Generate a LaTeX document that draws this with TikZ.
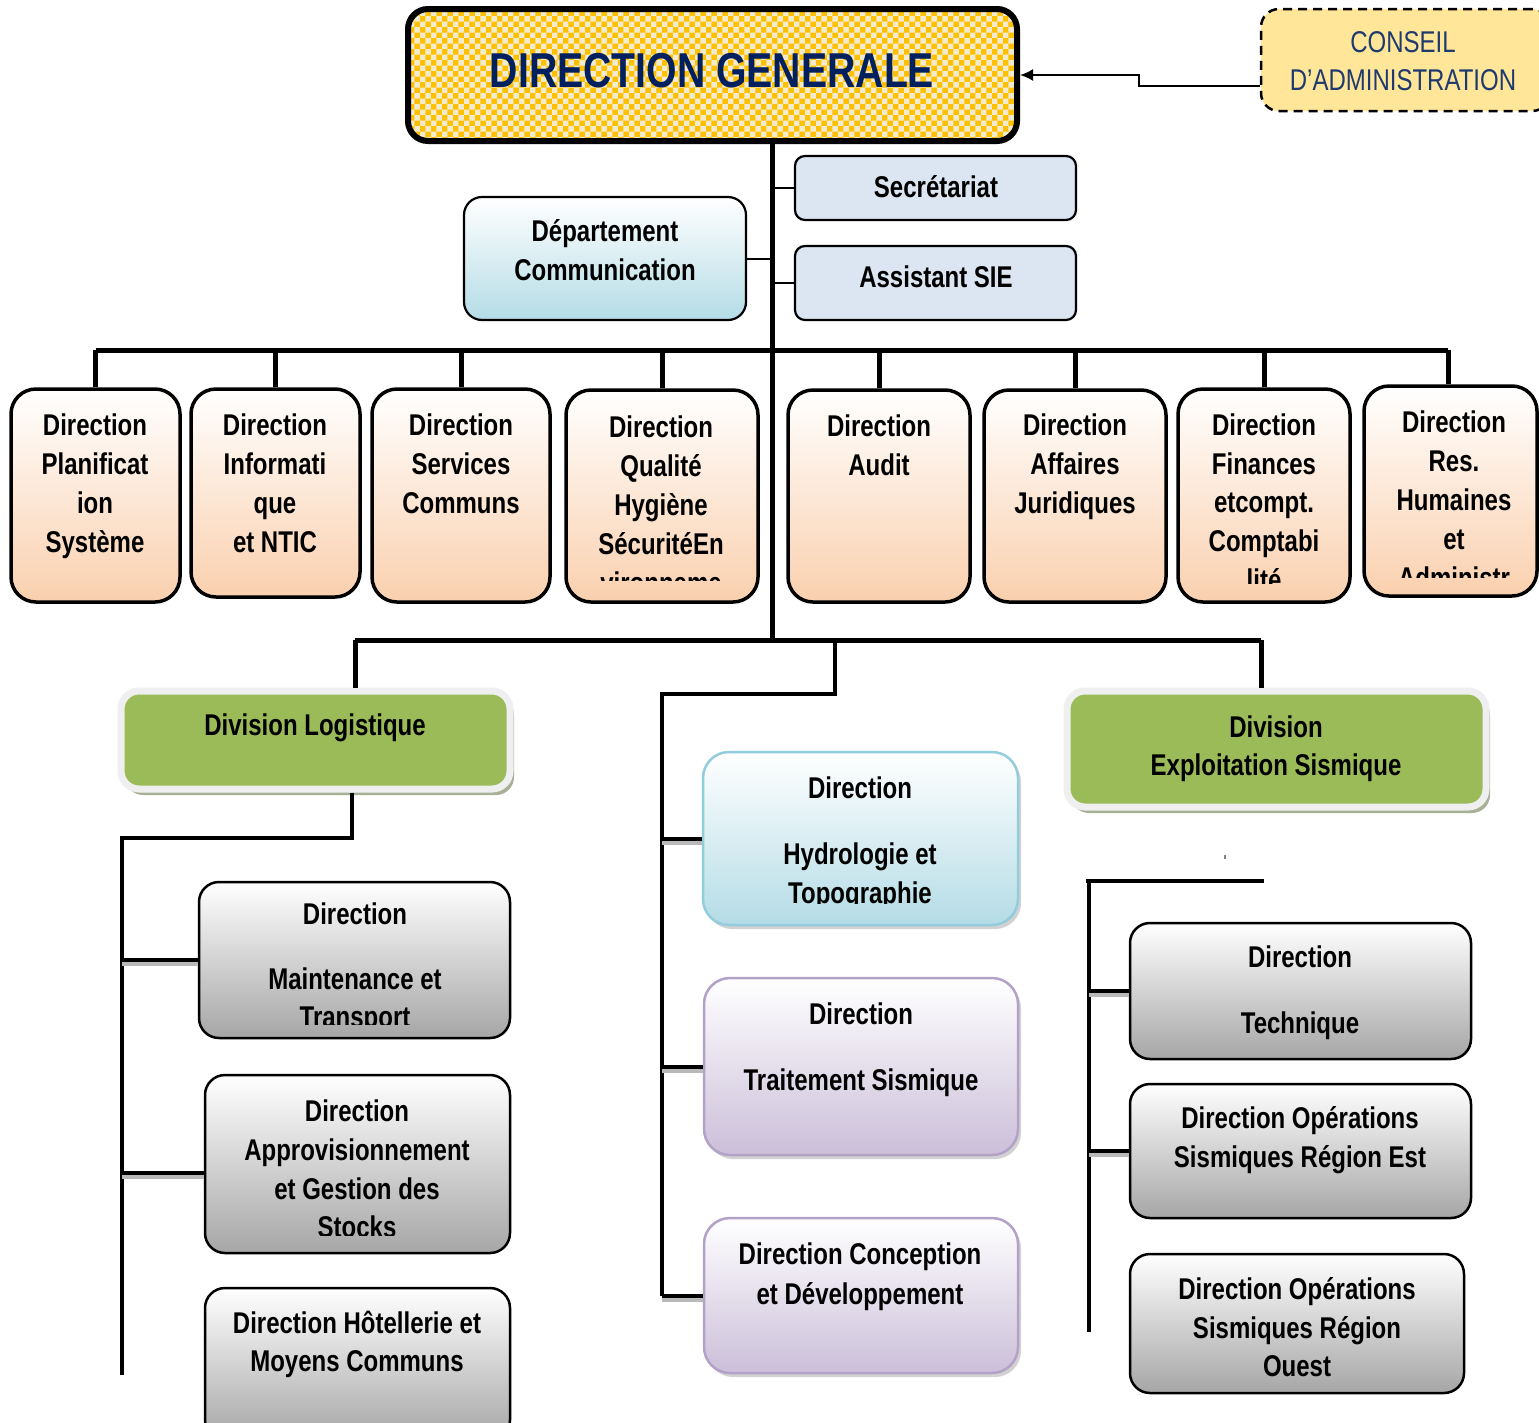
\documentclass[tikz,border=0pt]{standalone}
\usepackage{fontspec}
\setmainfont{Liberation Sans}[FakeStretch=0.8]
\usetikzlibrary{shadows,patterns,arrows.meta}
\definecolor{dgyellow}{HTML}{FFC000}
\definecolor{dgcream}{HTML}{F3EBCF}
\definecolor{dgnavy}{HTML}{002060}
\definecolor{canavy}{HTML}{1F3A6E}
\definecolor{cafill}{HTML}{FFE699}
\definecolor{peach}{HTML}{FAD0AE}
\definecolor{secfill}{HTML}{DCE6F2}
\definecolor{lblue}{HTML}{B4DCE6}
\definecolor{bblue}{HTML}{93CDDD}
\definecolor{lpurple}{HTML}{CBBFD9}
\definecolor{bpurple}{HTML}{B3A2C7}
\definecolor{midgray}{HTML}{A6A6A6}
\definecolor{dgreen}{HTML}{9BBB59}
\definecolor{greenrim}{HTML}{EFEFEF}
\definecolor{greenshadow}{HTML}{A7B096}
\newcommand\bx[6]{\node[#1, minimum width={#5-#3}, minimum height={#6-#4}] (#2) at ({(#3+#5)/2},{(#4+#6)/2}) {};}
\newcommand\tx[3][]{\foreach \yy/\myline in {#3}{\node[tl,#1] at (#2,\yy) {\myline};}}
\tikzset{
  tl/.style={anchor=base, inner sep=0pt, yshift=1pt, font=\bfseries\fontsize{30}{36}\selectfont},
  dgtext/.style={text=dgnavy, font=\bfseries\fontsize{49}{60}\selectfont},
  catext/.style={text=canavy, font=\mdseries\fontsize{30}{36}\selectfont},
  basebox/.style={rectangle, inner sep=0pt},
  dgbox/.style={basebox, draw, line width=6pt, rounded corners=20pt, preaction={fill=dgyellow}, pattern=checkerboard, pattern color=dgcream},
  cabox/.style={basebox, draw, line width=2.5pt, dashed, dash pattern=on 9pt off 6pt, rounded corners=18pt, fill=cafill},
  secbox/.style={basebox, draw, line width=2.2pt, rounded corners=10pt, fill=secfill},
  deptbox/.style={basebox, draw, line width=2.2pt, rounded corners=18pt, top color=white, bottom color=lblue},
  rowbox/.style={basebox, draw, line width=3.5pt, rounded corners=25pt, top color=white, bottom color=peach},
  greenbox/.style={basebox, draw=greenrim, line width=7pt, rounded corners=18pt, fill=dgreen, drop shadow={shadow xshift=4pt, shadow yshift=-6pt, fill=greenshadow, opacity=1}},
  graybox/.style={basebox, draw, line width=2.5pt, rounded corners=20pt, top color=white, bottom color=midgray},
  bluebox/.style={basebox, draw=bblue, line width=2.5pt, rounded corners=26pt, top color=white, bottom color=lblue, drop shadow={shadow xshift=3pt, shadow yshift=-4pt, opacity=0.35}},
  purplebox/.style={basebox, draw=bpurple, line width=2.5pt, rounded corners=26pt, top color=white, bottom color=lpurple, drop shadow={shadow xshift=3pt, shadow yshift=-4pt, opacity=0.35}},
  mainline/.style={line width=5pt, line join=miter},
  thinline/.style={line width=2pt},
  lowline/.style={line width=4pt, line join=miter},
  branch/.style={line width=4pt, preaction={draw=gray!55, line width=4pt, transform canvas={yshift=-4pt}}},
}
\begin{document}
\begin{tikzpicture}[x=1pt,y=-1pt]
\useasboundingbox (0,0) rectangle (1539,1422);
\fill[white] (0,0) rectangle (1539,1422);

% ---------- top ----------
\bx{dgbox}{dg}{408}{9}{1017}{141}
\tx[dgtext]{712}{88/DIRECTION GENERALE}
\bx{cabox}{ca}{1261}{9}{1550}{111}
\tx[catext]{1403}{53/CONSEIL, 91/D’ADMINISTRATION}
\coordinate (cal) at (ca.west |- 0,86);
\coordinate (cak) at (1139,86);
\draw[thinline, -{Latex[length=13pt,width=12pt]}] (cal) -- (cak) -- (cak |- 0,75) -- (dg.east |- 0,75);

% trunk
\coordinate (tb) at (772,640);
\draw[mainline] (dg.south -| tb) -- (tb);

\bx{secbox}{sec}{795}{156}{1076}{220}
\tx{936}{198/Secrétariat}
\bx{secbox}{asst}{795}{246}{1076}{320}
\tx{936}{288/Assistant SIE}
\bx{deptbox}{dept}{464}{197}{746}{320}
\tx{605}{242/Département, 281/Communication}
\draw[thinline] (tb |- sec.west) -- (sec.west);
\draw[thinline] (tb |- asst.west) -- (asst.west);
\draw[thinline] (dept.east) -- (tb |- dept.east);

% ---------- row of directions ----------
\bx{rowbox}{r1}{11}{389}{180}{602}
\bx{rowbox}{r2}{191}{389}{360}{597}
\bx{rowbox}{r3}{372}{389}{550}{602}
\bx{rowbox}{r4}{566}{390}{758}{602}
\bx{rowbox}{r5}{788}{390}{970}{602}
\bx{rowbox}{r6}{984}{390}{1166}{602}
\bx{rowbox}{r7}{1178}{389}{1350}{602}
\bx{rowbox}{r8}{1364}{386}{1537}{596}
\coordinate (busL) at (r1.north |- 0,350);
\coordinate (busR) at (1448,350);
\draw[mainline] (busL) -- (busR);
\foreach \r in {r1,r2,r3,r4,r5,r6,r7}{\draw[mainline] (\r.north |- busL) -- (\r.north);}
\draw[mainline] (busR) -- (busR |- r8.north);

\tx{95}{436/Direction, 475/Planificat, 514/ion, 553/Système}
\tx{275}{436/Direction, 475/Informati, 514/que, 553/et NTIC}
\tx{461}{436/Direction, 475/Services, 514/Communs}
\begin{scope}
\clip (566,390) rectangle (758,580);
\tx{661}{438/Direction, 477/Qualité, 516/Hygiène, 555/SécuritéEn, 594/vironneme}
\end{scope}
\tx{879}{437/Direction, 476/Audit}
\tx{1075}{436/Direction, 475/Affaires, 514/Juridiques}
\begin{scope}
\clip (1178,389) rectangle (1350,583);
\tx{1264}{436/Direction, 475/Finances, 513/etcompt., 552/Comptabi, 591/lité}
\end{scope}
\begin{scope}
\clip (1364,386) rectangle (1537,577);
\tx{1454}{433/Direction, 472/Res., 511/Humaines, 550/et, 589/Administr}
\end{scope}

% ---------- lower bus ----------
\coordinate (lbL) at (355,640);
\coordinate (lbR) at (1261,640);
\draw[mainline] (lbL) -- (lbR);

\bx{greenbox}{dl}{121}{691}{510}{789}
\tx{315}{736/Division Logistique}
\bx{greenbox}{de}{1067}{691}{1486}{807}
\tx{1276}{738/Division, 776/Exploitation Sismique}
\draw[mainline] (lbL) -- (lbL |- dl.north);
\draw[mainline] (lbR) -- (lbR |- de.north);

% ---------- middle column ----------
\bx{bluebox}{hy}{703}{752}{1018}{925}
\bx{purplebox}{ts}{704}{978}{1018}{1155}
\bx{purplebox}{co}{704}{1218}{1018}{1373}
\begin{scope}
\clip (703,752) rectangle (1018,903);
\tx{860}{799/Direction, 865/Hydrologie et, 904/Topographie}
\end{scope}
\tx{861}{1025/Direction, 1091/Traitement Sismique}
\tx{860}{1265/Direction Conception, 1305/et Développement}
\coordinate (mtop) at (835,640);
\coordinate (mv) at (662,694);
\draw[lowline] (mtop) -- (mtop |- mv) -- (mv) -- (mv |- co.west);
\draw[branch] (mv |- hy.west) -- (hy.west);
\draw[branch] (mv |- ts.west) -- (ts.west);
\draw[branch] (mv |- co.west) -- (co.west);

% ---------- left column ----------
\bx{graybox}{mt}{199}{882}{510}{1038}
\bx{graybox}{ap}{205}{1075}{510}{1253}
\bx{graybox}{ho}{205}{1288}{510}{1440}
\begin{scope}
\clip (199,882) rectangle (510,1024);
\tx{355}{925/Direction, 990/Maintenance et, 1028/Transport}
\end{scope}
\begin{scope}
\clip (205,1075) rectangle (510,1235);
\tx{357}{1122/Direction, 1161/Approvisionnement, 1200/et Gestion des, 1238/Stocks}
\end{scope}
\tx{357}{1334/Direction Hôtellerie et, 1372/Moyens Communs}
\coordinate (lk) at (352,838);
\coordinate (lv) at (122,838);
\draw[lowline] (dl.south -| lk) -- (lk) -- (lv) -- (lv |- 0,1375);
\draw[branch] (lv |- mt.west) -- (mt.west);
\draw[branch] (lv |- 0,1173) -- (ap.west |- 0,1173);

% ---------- right column ----------
\bx{graybox}{te}{1130}{923}{1471}{1059}
\bx{graybox}{es}{1130}{1084}{1471}{1218}
\bx{graybox}{ou}{1130}{1254}{1464}{1393}
\tx{1300}{968/Direction, 1034/Technique}
\tx{1300}{1129/Direction Opérations, 1168/Sismiques Région Est}
\tx{1297}{1300/Direction Opérations, 1339/Sismiques Région, 1377/Ouest}
\coordinate (rh) at (1264,881);
\coordinate (rv) at (1089,881);
\draw[lowline] (1086,881) -- (rh);
\draw[line width=3.5pt] (rv) -- (rv |- 0,1332);
\draw[branch] (rv |- te.west) -- (te.west);
\draw[branch] (rv |- es.west) -- (es.west);
\draw[gray, line width=1.2pt] (1225,855) -- (1225,859);
\end{tikzpicture}
\end{document}
